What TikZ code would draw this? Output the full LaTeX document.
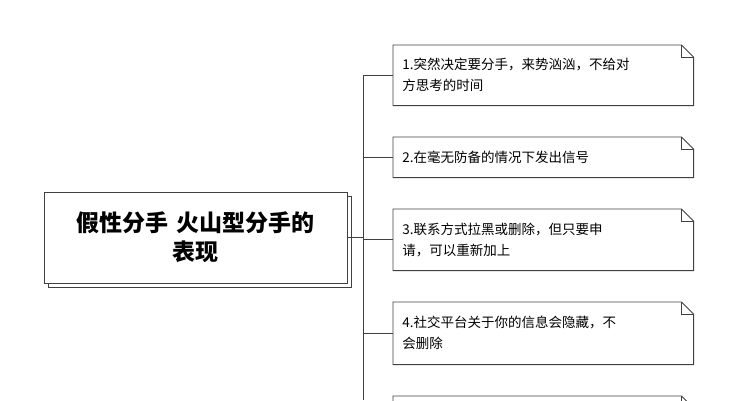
\documentclass[tikz,border=0pt]{standalone}
\usepackage{fontspec}
\setmainfont{Noto Sans CJK SC}
\usetikzlibrary{positioning}

\begin{document}
\begin{tikzpicture}[x=1pt,y=-1pt,semithick,
                    line/.style={draw=black!75,line width=0.9pt}]
  \tikzstyle{topic} = [rectangle, fill=white, draw=black!75, line width=0.9pt,
    minimum width=303pt, minimum height=91pt, text width=285pt, align=center,
    font=\fontsize{23}{29}\selectfont\bfseries]
  \tikzstyle{note} = [rectangle, minimum width=300pt, text width=282pt,
    inner xsep=9pt, align=left, font=\fontsize{13.5}{21}\selectfont,
    anchor=north west]
  \useasboundingbox (0,0) rectangle (737,400);
  \clip (0,0) rectangle (737,400);
  % shadow and main topic
  \node[topic] (shadow) at (199.5,241.5) {};
  \node[topic] (main) at (195.5,237.5) {假性分手 火山型分手的\\表现};
  \coordinate (trunk) at (363,239);
  \coordinate (trunkend) at (363,400);
  % notes
  \foreach \n/\y/\h/\t in {
      1/45/60/{1.突然决定要分手，来势汹汹，不给对\\方思考的时间},
      2/137/40/{2.在毫无防备的情况下发出信号},
      3/209/61/{3.联系方式拉黑或删除，但只要申\\请，可以重新加上},
      4/302/62/{4.社交平台关于你的信息会隐藏，不\\会删除},
      5/396/60/{}} {
    \node[note, minimum height=\h pt] (n\n) at (393,\y) {\t};
    \draw[line] (n\n.north west) -- ([xshift=-12pt]n\n.north east)
      -- ([yshift=-12pt]n\n.north east) -- (n\n.south east)
      -- (n\n.south west) -- cycle;
    \draw[line,line width=0.6pt] ([xshift=-12pt]n\n.north east)
      -- ([xshift=-12pt,yshift=-12pt]n\n.north east)
      -- ([yshift=-12pt]n\n.north east);
    \draw[line] (n\n.west) -- (n\n.west -| trunk);
  }
  \draw[line] (main.east) -- (main.east -| trunk);
  \draw[line] (n1.west -| trunk) -- (trunkend);
\end{tikzpicture}
\end{document}
